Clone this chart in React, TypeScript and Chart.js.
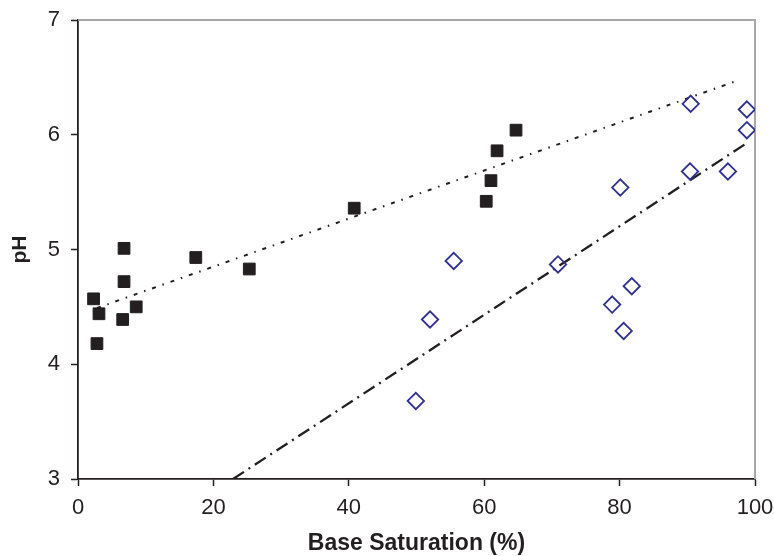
import React, { useEffect, useRef } from "react";
import { Chart, registerables } from "chart.js";
Chart.register(...registerables);

// Black squares series
const squareX = [2.3, 3.1, 2.8, 6.8, 6.8, 6.6, 8.6, 17.4, 25.3, 40.8, 60.3, 61.0, 61.9, 64.7];
const squareY = [4.57, 4.44, 4.18, 5.01, 4.72, 4.39, 4.5, 4.93, 4.83, 5.36, 5.42, 5.6, 5.86, 6.04];

// Open diamonds series
const diamondX = [49.9, 52.0, 55.5, 70.9, 78.9, 80.6, 80.1, 81.8, 90.4, 90.5, 96.0, 98.8, 98.8];
const diamondY = [3.68, 4.39, 4.9, 4.87, 4.52, 4.29, 5.54, 4.68, 5.68, 6.27, 5.68, 6.22, 6.04];

// Trend lines (end points)
const dottedX = [2.8, 97.8];
const dottedY = [4.49, 6.48];
const dashDotX = [22.9, 98.6];
const dashDotY = [3.0, 5.92];

const xTicks = [0, 20, 40, 60, 80, 100];
const yTicks = [3, 4, 5, 6, 7];

const FONT = "'Liberation Sans', Arial, Helvetica, sans-serif";

const zip = (xs: number[], ys: number[]) => xs.map((x, i) => ({ x, y: ys[i] }));

export default function App() {
  const ref = useRef<HTMLCanvasElement>(null);
  useEffect(() => {
    document.body.style.margin = "0";
    const frame = {
      id: "frame",
      beforeDatasetsDraw(chart: any) {
        const { ctx, chartArea } = chart;
        const { left, right, top, bottom } = chartArea;
        ctx.save();
        ctx.strokeStyle = "#a8a8a8";
        ctx.lineWidth = 2;
        ctx.beginPath();
        ctx.moveTo(left, top);
        ctx.lineTo(right, top);
        ctx.lineTo(right, bottom);
        ctx.stroke();
        ctx.restore();
      },
    };
    const chart = new Chart(ref.current as HTMLCanvasElement, {
      type: "scatter",
      data: {
        datasets: [
          {
            label: "squares",
            data: zip(squareX, squareY),
            pointStyle: "rect",
            pointRadius: 8.3,
            pointBackgroundColor: "#231f20",
            pointBorderColor: "#231f20",
            pointBorderWidth: 1,
            showLine: false,
            order: 0,
          },
          {
            label: "diamonds",
            data: zip(diamondX, diamondY),
            pointStyle: "rectRot",
            pointRadius: 8.2,
            pointBackgroundColor: "rgba(255,255,255,0)",
            pointBorderColor: "#2e3192",
            pointBorderWidth: 1.8,
            showLine: false,
            order: 0,
          },
          {
            label: "trend1",
            data: zip(dottedX, dottedY),
            showLine: true,
            borderColor: "#231f20",
            borderWidth: 2,
            borderDash: [4, 7, 1.5, 7],
            pointRadius: 0,
            order: 1,
          },
          {
            label: "trend2",
            data: zip(dashDotX, dashDotY),
            showLine: true,
            borderColor: "#231f20",
            borderWidth: 2.3,
            borderDash: [13, 5.5, 2, 5.5],
            pointRadius: 0,
            order: 1,
          },
        ],
      },
      options: {
        responsive: false,
        animation: false,
        devicePixelRatio: 1,
        layout: { padding: { top: 20, right: 19, left: 0, bottom: 0 } },
        plugins: { legend: { display: false }, tooltip: { enabled: false } },
        scales: {
          x: {
            type: "linear",
            min: 0,
            max: 100,
            afterFit: (s: any) => {
              s.height = 77;
              s.paddingLeft = 0;
              s.paddingRight = 0;
            },
            afterBuildTicks: (s: any) => {
              s.ticks = xTicks.map((v) => ({ value: v }));
            },
            ticks: { font: { family: FONT, size: 22 }, color: "#231f20", padding: 9, maxRotation: 0 },
            grid: {
              drawOnChartArea: false,
              drawTicks: true,
              tickLength: 7,
              tickColor: "#231f20",
              tickWidth: 1.5,
            },
            border: { display: true, color: "#231f20", width: 1.8 },
            title: {
              display: true,
              text: "Base Saturation (%)",
              font: { family: FONT, size: 23, weight: "bold", lineHeight: 1 },
              color: "#231f20",
              padding: { top: 0, bottom: 1 },
            },
          },
          y: {
            type: "linear",
            min: 3,
            max: 7,
            afterFit: (s: any) => {
              s.width = 78;
              s.paddingTop = 0;
              s.paddingBottom = 0;
            },
            afterBuildTicks: (s: any) => {
              s.ticks = yTicks.map((v) => ({ value: v }));
            },
            ticks: { font: { family: FONT, size: 22 }, color: "#231f20", padding: 11 },
            grid: {
              drawOnChartArea: false,
              drawTicks: true,
              tickLength: 7,
              tickColor: "#231f20",
              tickWidth: 1.5,
            },
            border: { display: true, color: "#231f20", width: 1.8 },
            title: {
              display: true,
              text: "pH",
              font: { family: FONT, size: 21, weight: "bold", lineHeight: 1 },
              color: "#231f20",
              padding: { top: 10, bottom: 0 },
            },
          },
        },
      },
      plugins: [frame],
    } as any);
    return () => chart.destroy();
  }, []);
  return (
    <div style={{ position: "absolute", left: 0, top: 0, width: 774, height: 556 }}>
      <canvas ref={ref} width={774} height={556} style={{ display: "block" }} />
    </div>
  );
}
